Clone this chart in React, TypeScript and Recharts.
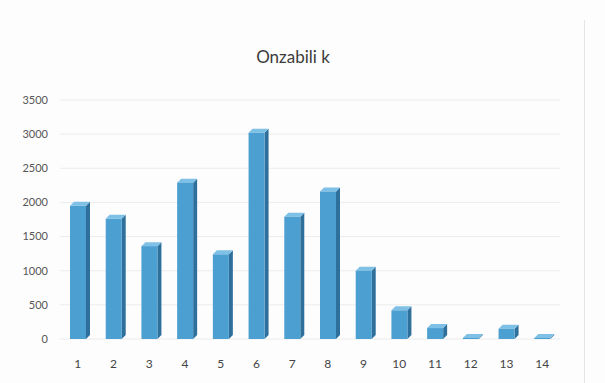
import React from 'react';
import { BarChart, Bar, XAxis, YAxis, CartesianGrid } from 'recharts';

const categories = ['1', '2', '3', '4', '5', '6', '7', '8', '9', '10', '11', '12', '13', '14'];
const values = [1950, 1760, 1360, 2290, 1240, 3020, 1790, 2160, 1000, 420, 160, 15, 150, 15];
const yTicks = [0, 500, 1000, 1500, 2000, 2500, 3000, 3500];

const data = categories.map((c, i) => ({ name: c, value: values[i] }));

const FRONT = '#4b9fd1';
const SIDE = '#2e6f9b';
const TOP = '#7ec0e6';

// fake Excel-style 3D column: front face + right side + top
// eslint-disable-next-line @typescript-eslint/no-explicit-any
const Column3D = (props: any) => {
    const { x, y, width, height } = props;
    const d = 4;
    const h = Math.max(height, 1);
    const yy = y + height - h;
    return (
        <g>
            <polygon
                points={`${x + width},${yy} ${x + width + d},${yy - d} ${x + width + d},${yy + h - d} ${x + width},${yy + h}`}
                fill={SIDE}
            />
            <polygon
                points={`${x},${yy} ${x + d},${yy - d} ${x + width + d},${yy - d} ${x + width},${yy}`}
                fill={TOP}
            />
            <rect x={x} y={yy} width={width} height={h} fill={FRONT} />
        </g>
    );
};

export default function App() {
    return (
        <div style={{ position: 'absolute', left: 0, top: 0, width: 605, height: 383, background: '#fdfdfd', fontFamily: 'Lato, sans-serif' }}>
            <div style={{ position: 'absolute', left: 0, top: 46, width: 586, textAlign: 'center', fontSize: 17, color: '#3c3c3c' }}>
                Onzabili k
            </div>
            <div style={{ position: 'absolute', left: 584, top: 20, width: 1, height: 363, background: '#e4e4e4' }} />
            <BarChart
                width={605}
                height={383}
                data={data}
                margin={{ top: 100, right: 45, bottom: 14, left: 10 }}
            >
                <CartesianGrid vertical={false} stroke="#ececec" />
                <XAxis
                    dataKey="name"
                    axisLine={false}
                    tickLine={false}
                    tick={{ fill: '#444', fontSize: 12, fontFamily: 'Lato, sans-serif' }}
                    tickMargin={14}
                />
                <YAxis
                    domain={[0, 3500]}
                    ticks={yTicks}
                    axisLine={false}
                    tickLine={false}
                    width={50}
                    tick={{ fill: '#555', fontSize: 11, fontFamily: 'Lato, sans-serif' }}
                    tickMargin={6}
                />
                <Bar dataKey="value" shape={Column3D} barSize={16} isAnimationActive={false} />
            </BarChart>
        </div>
    );
}
